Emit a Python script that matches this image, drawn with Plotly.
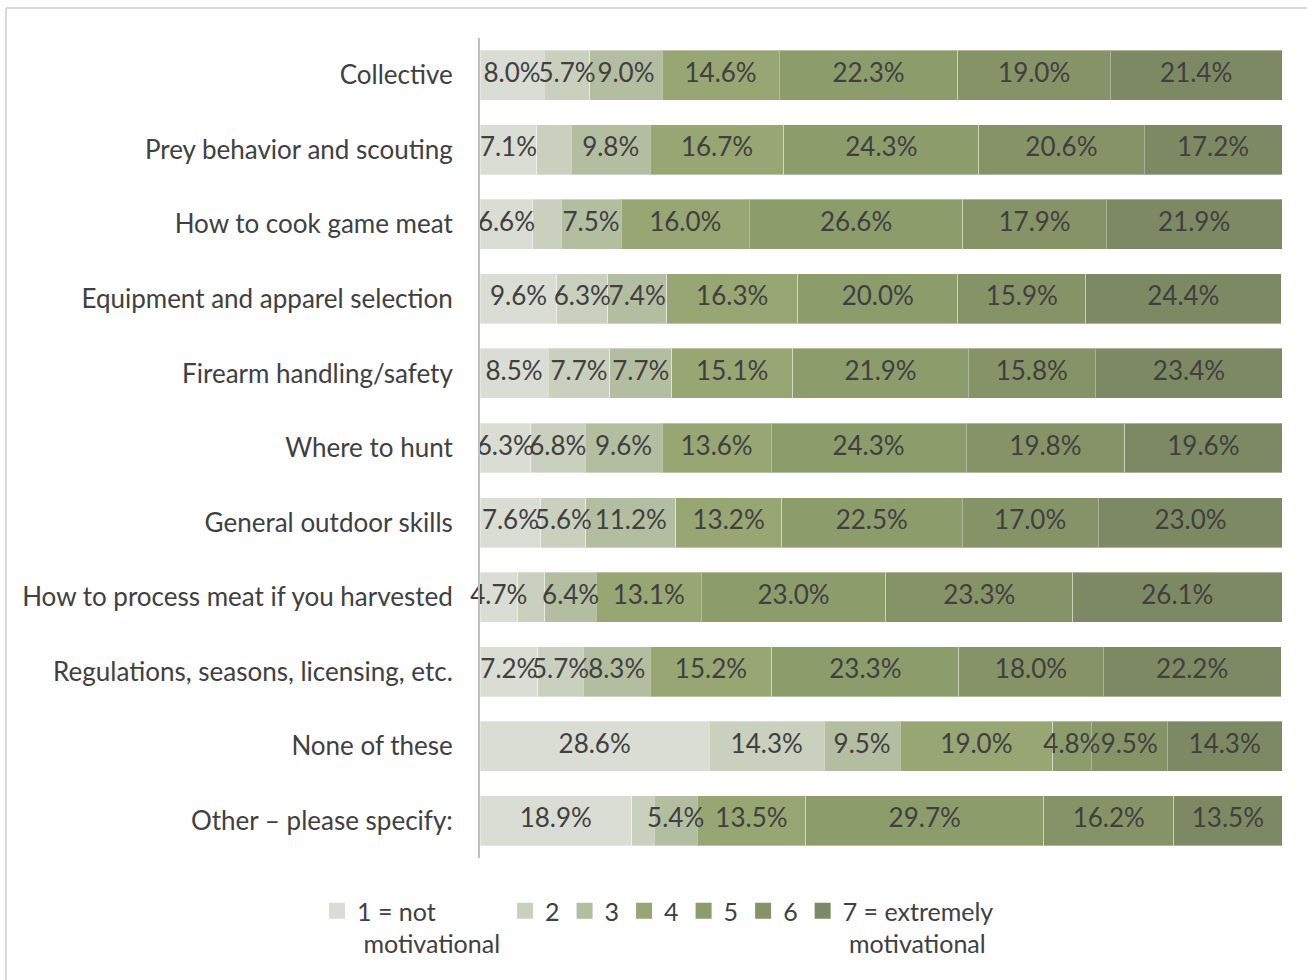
import plotly.graph_objects as go

categories = [
    "Collective",
    "Prey behavior and scouting",
    "How to cook game meat",
    "Equipment and apparel selection",
    "Firearm handling/safety",
    "Where to hunt",
    "General outdoor skills",
    "How to process meat if you harvested",
    "Regulations, seasons, licensing, etc.",
    "None of these",
    "Other \u2013 please specify:",
]

series_names = ["1 = not<br> motivational", "2", "3", "4", "5", "6", "7 = extremely<br> motivational"]

s1 = [8.0, 7.1, 6.6, 9.6, 8.5, 6.3, 7.6, 4.7, 7.2, 28.6, 18.9]
s2 = [5.7, 4.3, 3.5, 6.3, 7.7, 6.8, 5.6, 3.4, 5.7, 14.3, 2.8]
s3 = [9.0, 9.8, 7.5, 7.4, 7.7, 9.6, 11.2, 6.4, 8.3, 9.5, 5.4]
s4 = [14.6, 16.7, 16.0, 16.3, 15.1, 13.6, 13.2, 13.1, 15.2, 19.0, 13.5]
s5 = [22.3, 24.3, 26.6, 20.0, 21.9, 24.3, 22.5, 23.0, 23.3, 4.8, 29.7]
s6 = [19.0, 20.6, 17.9, 15.9, 15.8, 19.8, 17.0, 23.3, 18.0, 9.5, 16.2]
s7 = [21.4, 17.2, 21.9, 24.4, 23.4, 19.6, 23.0, 26.1, 22.2, 14.3, 13.5]

# segments without a printed label in the original
hidden = {(1, 1), (1, 2), (1, 7), (1, 10)}  # (series index, category index)

colors = ["#D9DDD3", "#C9D0BE", "#B3BEA0", "#97A672", "#8C9C6B", "#869366", "#7D8963"]

series = [s1, s2, s3, s4, s5, s6, s7]

FONT = "Lato, Open Sans, sans-serif"
TXT = "#404040"

fig = go.Figure()
for i, (name, vals, col) in enumerate(zip(series_names, series, colors)):
    fig.add_trace(go.Bar(
        y=categories, x=vals, name=name, orientation="h",
        marker=dict(color=col, line=dict(color="rgba(255,255,255,0.35)", width=1)),
        hoverinfo="skip", showlegend=False,
    ))

# data labels on top of all bars (so overflowing labels are not hidden)
base = [0.0] * len(categories)
for i, vals in enumerate(series):
    xs, ys, ts = [], [], []
    for j, v in enumerate(vals):
        if (i, j) not in hidden:
            xs.append(base[j] + v / 2)
            ys.append(categories[j])
            ts.append(f"{v:.1f}%")
        base[j] += v
    fig.add_trace(go.Scatter(
        x=xs, y=ys, text=ts, mode="text", textposition="middle center",
        textfont=dict(family=FONT, size=26, color=TXT),
        cliponaxis=False, showlegend=False, hoverinfo="skip",
    ))

# legend entries with larger square swatches
for name, col in zip(series_names, colors):
    fig.add_trace(go.Scatter(
        x=[None], y=[None], mode="markers", name=name,
        marker=dict(symbol="square", size=16, color=col),
        hoverinfo="skip",
    ))

W, H = 1307, 980
L, R, T, B = 480, 25, 38, 122
pw, ph = W - L - R, H - T - B

fig.update_layout(
    barmode="stack",
    bargap=0.33,
    width=W, height=H,
    margin=dict(l=L, r=R, t=T, b=B, autoexpand=False),
    paper_bgcolor="white", plot_bgcolor="white",
    font=dict(family=FONT, size=26, color=TXT),
    showlegend=True,
    legend=dict(
        orientation="h", x=(658 - L) / pw, xanchor="center", y=-30 / ph, yanchor="top",
        font=dict(family=FONT, size=25, color=TXT),
        traceorder="normal", valign="top", itemwidth=30,
    ),
    xaxis=dict(range=[0, 100], visible=False, fixedrange=True),
    yaxis=dict(
        type="category", categoryorder="array", categoryarray=categories,
        range=[len(categories) - 0.5, -0.5],
        showline=True, linecolor="#BFBFBF", linewidth=2,
        ticks="", ticklabelstandoff=20, showgrid=False,
        tickfont=dict(family=FONT, size=26, color=TXT),
    ),
    shapes=[
        dict(type="line", xref="paper", yref="paper",
             x0=(6 - L) / pw, x1=(W - L) / pw,
             y0=(H - B - 8) / ph, y1=(H - B - 8) / ph,
             line=dict(color="#D9D9D9", width=2)),
        dict(type="line", xref="paper", yref="paper",
             x0=(6 - L) / pw, x1=(6 - L) / pw,
             y0=(H - B - 8) / ph, y1=-B / ph,
             line=dict(color="#D9D9D9", width=2)),
    ],
)

fig.write_html("out.html", config={"displayModeBar": False},
               post_script="document.body.style.margin='0px';")
